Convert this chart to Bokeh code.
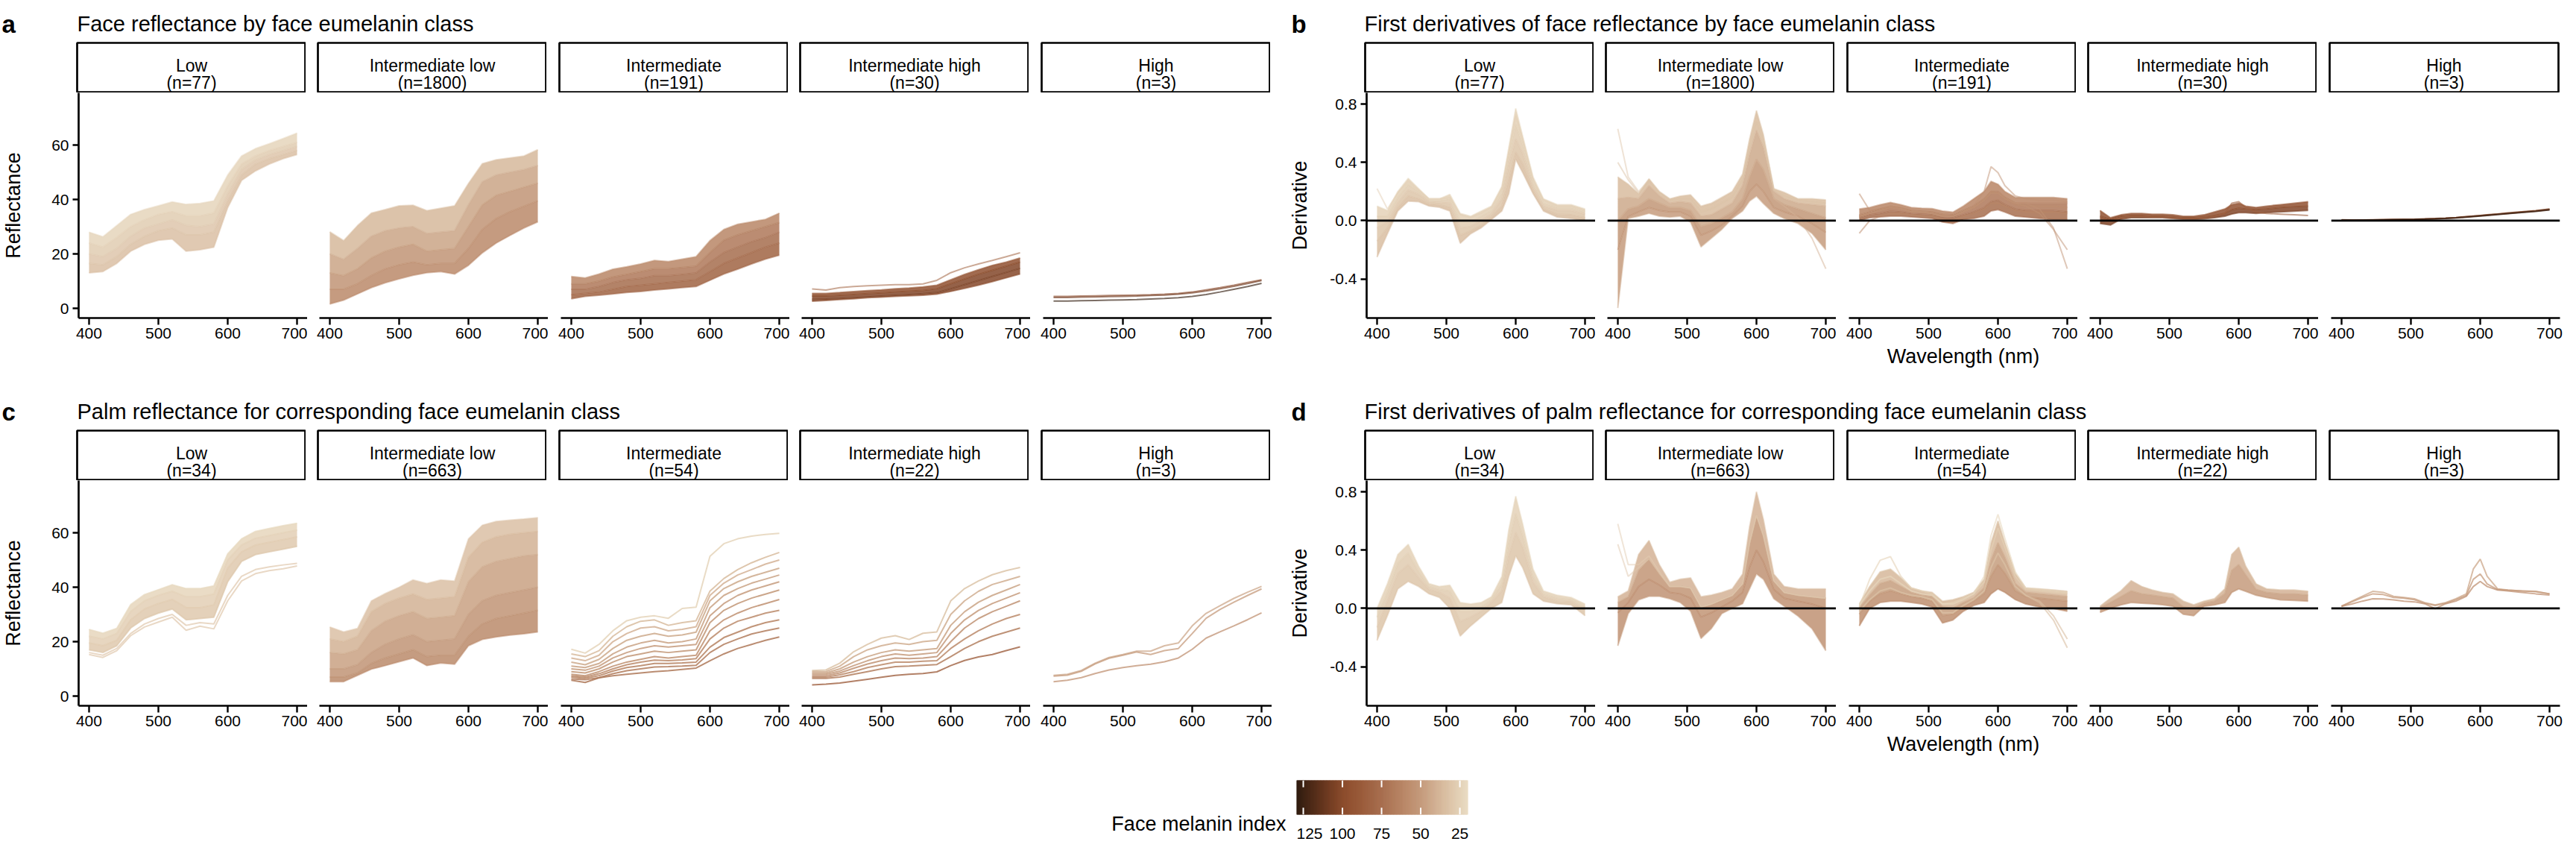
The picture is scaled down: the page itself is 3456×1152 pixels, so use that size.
import numpy as np
from bokeh.plotting import figure
from bokeh.models import Range1d, FixedTicker, PrintfTickFormatter, Span, ColumnDataSource, LinearColorMapper
from bokeh.layouts import row, column
from bokeh.embed import file_html
from bokeh.resources import INLINE
from bokeh.core.properties import value

FONT = "Liberation Sans"

# ---------------- data ----------------
CLASSES = ["Low", "Intermediate low", "Intermediate", "Intermediate high", "High"]
N_FACE = [77, 1800, 191, 30, 3]
N_PALM = [34, 663, 54, 22, 3]

WL_R = [400, 420, 440, 460, 480, 500, 520, 540, 560, 580, 600, 620, 640, 660, 680, 700]
WL_D = [400, 415, 430, 445, 460, 475, 490, 505, 520, 535, 550, 565, 580, 590, 600, 610, 625, 640, 660, 680, 700]

R_TICKS = [0, 20, 40, 60]
D_TICKS = [-0.4, 0.0, 0.4, 0.8]
WL_TICKS = [400, 500, 600, 700]
INDEX_TICKS = [125, 100, 75, 50, 25]
INDEX_RANGE = [19.8, 129.3]

# ---- a: face reflectance ----
FACE_R_LOW = [
    [28.0, 26.3, 30.4, 34.5, 36.3, 37.7, 39.1, 38.2, 38.6, 39.5, 49.0, 56.0, 58.7, 60.5, 62.4, 64.4],
    [24.0, 22.5, 26.0, 30.0, 32.5, 34.5, 35.5, 34.0, 34.0, 35.0, 45.0, 53.0, 56.0, 58.0, 59.5, 61.0],
    [20.0, 19.0, 22.0, 26.5, 29.5, 31.0, 32.5, 30.5, 30.0, 31.0, 42.0, 51.0, 54.5, 56.5, 58.0, 59.5],
    [16.5, 16.0, 19.0, 23.5, 26.5, 28.5, 29.5, 27.0, 27.0, 28.0, 39.5, 49.0, 53.0, 55.0, 56.5, 58.0],
    [13.0, 13.5, 16.5, 21.0, 23.5, 25.0, 25.5, 21.0, 21.5, 22.5, 37.0, 47.0, 50.5, 53.0, 55.0, 56.5],
]
FACE_R_LOW_IDX = [22, 26, 29, 32, 35]

FACE_R_INTLOW = [
    [28.1, 24.9, 30.4, 35.0, 36.3, 37.7, 37.9, 35.9, 36.8, 37.7, 45.9, 53.2, 54.6, 55.3, 56.0, 58.3],
    [20.0, 18.0, 22.0, 26.5, 28.5, 29.5, 30.0, 27.5, 28.0, 28.5, 38.0, 46.5, 49.0, 50.0, 51.0, 52.5],
    [13.0, 12.0, 14.5, 18.5, 21.0, 22.5, 23.5, 21.0, 21.5, 22.0, 30.0, 38.0, 41.5, 43.0, 44.5, 46.0],
    [7.0, 7.0, 9.0, 12.0, 14.5, 16.0, 17.0, 16.0, 16.5, 16.5, 22.0, 29.0, 33.0, 35.5, 37.5, 39.5],
    [1.6, 3.0, 5.3, 7.6, 9.4, 10.8, 12.1, 13.1, 13.5, 12.6, 15.8, 20.4, 24.0, 26.8, 29.5, 31.8],
]
FACE_R_INTLOW_IDX = [33, 42, 50, 58, 62]

FACE_R_INT = [
    [11.7, 11.2, 12.6, 14.4, 15.3, 16.3, 17.6, 17.2, 18.1, 19.0, 24.9, 29.0, 30.9, 31.8, 32.7, 35.0],
    [9.0, 9.0, 10.0, 11.5, 12.5, 13.5, 14.5, 14.5, 15.0, 15.5, 20.5, 25.0, 27.0, 28.5, 30.0, 31.5],
    [7.0, 7.0, 8.0, 9.5, 10.5, 11.0, 12.0, 12.0, 12.5, 13.0, 17.0, 20.5, 22.5, 24.5, 26.0, 28.0],
    [5.0, 5.5, 6.0, 7.0, 8.0, 8.5, 9.0, 9.5, 10.0, 10.5, 13.5, 16.5, 18.5, 20.5, 22.5, 24.0],
    [3.5, 4.4, 4.8, 5.3, 5.8, 6.2, 6.7, 7.1, 7.6, 8.0, 10.3, 12.6, 14.4, 16.3, 18.1, 19.5],
]
FACE_R_INT_IDX = [58, 66, 73, 80, 86]

FACE_R_INTHIGH = [
    [5.5, 5.5, 5.8, 6.2, 6.5, 6.8, 7.2, 7.5, 7.9, 8.5, 10.5, 12.5, 14.2, 15.8, 17.0, 18.5],
    [4.5, 4.5, 4.8, 5.1, 5.4, 5.7, 6.0, 6.3, 6.6, 7.2, 9.0, 10.8, 12.5, 14.0, 15.5, 17.0],
    [3.3, 3.4, 3.6, 3.9, 4.2, 4.5, 4.8, 5.1, 5.4, 5.8, 7.2, 8.7, 10.2, 11.7, 13.2, 14.7],
    [2.6, 2.9, 3.2, 3.5, 3.9, 4.1, 4.4, 4.6, 4.8, 5.2, 6.2, 7.3, 8.5, 9.8, 11.2, 12.6],
]
FACE_R_INTHIGH_IDX = [92, 100, 106, 98]
FACE_R_INTHIGH_EXTRA = [
    [7.1, 6.7, 7.6, 8.0, 8.3, 8.5, 8.7, 8.7, 9.0, 10.3, 13.1, 14.9, 16.3, 17.6, 19.0, 20.4],
]
FACE_R_INTHIGH_EXTRA_IDX = [75]

FACE_R_HIGH = [
    [4.4, 4.4, 4.5, 4.6, 4.7, 4.8, 4.9, 5.0, 5.2, 5.5, 6.0, 6.8, 7.6, 8.5, 9.5, 10.5],
    [4.0, 4.0, 4.1, 4.2, 4.3, 4.4, 4.5, 4.7, 4.9, 5.2, 5.7, 6.4, 7.2, 8.1, 9.1, 10.2],
    [2.7, 2.7, 2.8, 2.9, 3.0, 3.1, 3.2, 3.4, 3.6, 3.9, 4.4, 5.1, 6.0, 7.0, 8.0, 9.2],
]
FACE_R_HIGH_IDX = [100, 108, 128]

# ---- c: palm reflectance ----
PALM_R_LOW = [
    [24.5, 23.1, 24.9, 33.6, 37.3, 39.1, 40.9, 39.5, 39.5, 40.5, 52.3, 57.8, 60.5, 61.6, 62.6, 63.5],
    [22.0, 21.0, 23.0, 31.0, 35.0, 37.0, 38.5, 36.5, 36.5, 37.5, 50.0, 55.5, 58.0, 59.0, 60.0, 61.0],
    [19.5, 18.5, 20.5, 28.0, 32.0, 34.0, 35.5, 32.5, 32.5, 33.5, 47.0, 53.0, 55.5, 56.5, 57.5, 58.5],
    [17.0, 16.0, 18.5, 25.0, 28.5, 30.5, 32.0, 28.0, 28.5, 29.0, 42.0, 49.5, 52.0, 53.0, 54.0, 55.0],
]
PALM_R_LOW_IDX = [22, 25, 28, 31]
PALM_R_LOW_EXTRA = [
    [16.0, 15.0, 17.5, 23.0, 26.5, 28.5, 30.0, 26.0, 27.0, 26.5, 37.0, 44.0, 46.5, 47.5, 48.2, 48.8],
    [15.3, 14.2, 16.7, 22.2, 25.4, 27.2, 29.0, 24.2, 25.7, 24.7, 35.0, 42.3, 45.0, 46.1, 46.8, 47.8],
]
PALM_R_LOW_EXTRA_IDX = [30, 30]

PALM_R_INTLOW = [
    [25.4, 23.6, 24.9, 35.0, 37.7, 40.0, 42.7, 41.4, 42.7, 42.3, 57.8, 62.8, 64.2, 64.7, 65.1, 65.6],
    [21.0, 20.0, 22.0, 31.0, 34.0, 36.0, 37.5, 35.5, 36.0, 36.5, 51.0, 56.5, 58.5, 59.5, 60.0, 60.5],
    [16.0, 15.5, 17.0, 24.0, 27.5, 29.5, 31.0, 28.5, 29.0, 29.5, 42.0, 47.5, 49.5, 50.5, 51.5, 52.0],
    [10.0, 10.0, 11.5, 16.0, 19.0, 21.0, 22.5, 20.0, 20.5, 21.0, 30.0, 35.0, 37.0, 38.0, 39.0, 40.0],
    [7.0, 7.0, 8.5, 12.0, 14.0, 15.5, 17.0, 14.5, 15.0, 15.0, 22.0, 26.5, 28.5, 29.5, 30.5, 31.5],
    [5.3, 5.3, 7.6, 9.9, 11.2, 12.6, 14.0, 11.2, 12.1, 11.7, 18.5, 20.8, 21.7, 22.4, 22.9, 23.6],
]
PALM_R_INTLOW_IDX = [30, 37, 44, 51, 57, 62]

PALM_R_INT = [
    [17.2, 15.8, 19.0, 24.0, 27.7, 29.0, 29.5, 28.6, 32.2, 32.7, 51.4, 56.0, 57.8, 58.8, 59.4, 59.8],
    [15.5, 14.5, 16.7, 22.0, 25.5, 27.5, 28.0, 26.0, 27.0, 27.7, 38.6, 43.2, 46.5, 49.0, 51.0, 52.8],
    [14.0, 13.0, 15.0, 20.0, 23.0, 25.0, 25.5, 24.0, 24.5, 25.5, 37.0, 41.5, 44.5, 46.5, 48.5, 50.0],
    [12.5, 11.5, 13.5, 17.5, 20.5, 22.0, 23.0, 22.0, 22.5, 23.5, 35.0, 39.5, 42.0, 44.0, 45.5, 47.0],
    [11.0, 10.5, 12.0, 15.5, 18.0, 19.5, 20.5, 19.5, 20.0, 21.0, 32.5, 37.0, 39.5, 41.5, 43.0, 44.5],
    [10.0, 9.5, 11.0, 14.0, 16.0, 17.5, 18.5, 18.0, 18.5, 19.0, 29.5, 34.0, 37.0, 39.0, 40.5, 42.0],
    [9.0, 8.5, 10.0, 12.5, 14.5, 15.5, 16.5, 16.0, 16.5, 17.0, 27.0, 31.5, 34.0, 36.0, 37.5, 39.0],
    [8.0, 7.5, 9.0, 11.0, 12.5, 13.5, 14.5, 14.0, 14.5, 15.0, 24.0, 28.0, 30.5, 32.5, 34.0, 35.5],
    [7.5, 7.0, 8.2, 10.0, 11.5, 12.5, 13.2, 13.0, 13.3, 13.8, 21.0, 25.0, 27.5, 29.0, 30.5, 31.5],
    [7.0, 6.5, 7.5, 9.2, 10.5, 11.2, 12.0, 12.0, 12.2, 12.5, 18.0, 21.5, 23.5, 25.5, 27.0, 28.0],
    [6.3, 6.0, 6.8, 8.2, 9.3, 10.0, 10.7, 10.8, 11.0, 11.3, 16.0, 19.0, 21.0, 22.8, 24.0, 25.0],
    [5.8, 5.0, 6.7, 7.5, 8.0, 8.5, 9.0, 9.3, 9.8, 10.3, 13.0, 15.5, 17.5, 19.0, 20.5, 21.7],
]
PALM_R_INT_IDX = [24, 36, 40, 44, 47, 50, 53, 56, 60, 64, 67, 70]

PALM_R_INTHIGH = [
    [9.4, 9.6, 12.1, 16.3, 19.0, 21.3, 22.2, 20.8, 23.1, 23.6, 35.0, 39.5, 42.3, 44.6, 46.1, 47.3],
    [9.0, 9.0, 11.0, 14.5, 17.0, 18.5, 19.5, 19.0, 20.0, 20.5, 30.0, 35.0, 38.5, 41.0, 42.5, 44.0],
    [8.5, 8.5, 10.0, 12.5, 14.5, 16.0, 17.0, 16.5, 17.0, 17.5, 26.0, 31.0, 34.5, 37.0, 39.0, 41.0],
    [8.0, 8.0, 9.2, 11.2, 13.0, 14.5, 15.5, 15.0, 15.5, 16.0, 23.0, 28.0, 31.5, 34.0, 36.0, 38.0],
    [7.5, 7.5, 8.5, 10.2, 11.8, 13.0, 14.0, 13.8, 14.0, 14.5, 20.0, 25.0, 28.5, 31.0, 33.0, 35.0],
    [7.0, 7.0, 7.8, 9.0, 10.5, 11.5, 12.5, 12.5, 12.8, 13.0, 17.5, 21.0, 24.0, 26.5, 28.5, 30.0],
    [6.5, 6.5, 7.0, 8.0, 9.0, 10.0, 10.8, 11.0, 11.3, 11.6, 14.5, 17.5, 20.0, 22.0, 23.5, 25.0],
    [4.1, 4.4, 4.8, 5.5, 6.2, 6.9, 7.6, 8.0, 8.3, 8.9, 11.2, 13.1, 14.4, 15.3, 16.7, 18.1],
]
PALM_R_INTHIGH_IDX = [32, 42, 46, 50, 55, 60, 66, 78]

PALM_R_HIGH = [
    [7.6, 8.0, 9.4, 12.1, 14.2, 15.3, 16.5, 16.5, 18.5, 19.5, 25.8, 30.4, 33.2, 35.9, 38.2, 40.3],
    [7.3, 7.7, 9.1, 11.8, 13.9, 15.0, 16.2, 15.3, 16.7, 17.5, 23.0, 28.6, 31.8, 34.5, 37.0, 39.4],
    [5.3, 5.8, 6.8, 8.3, 9.6, 10.5, 11.2, 11.7, 12.6, 14.0, 17.2, 21.3, 23.6, 25.8, 28.1, 30.6],
]
PALM_R_HIGH_IDX = [45, 50, 55]

# ---- b: face derivatives ----
FACE_D_LOW = [
    [0.10, 0.07, 0.20, 0.29, 0.22, 0.15, 0.15, 0.18, 0.05, 0.03, 0.065, 0.10, 0.235, 0.50, 0.77, 0.58, 0.30, 0.15, 0.11, 0.11, 0.08],
    [0.03, 0.03, 0.16, 0.25, 0.20, 0.14, 0.14, 0.15, 0.00, -0.01, 0.03, 0.07, 0.19, 0.44, 0.66, 0.52, 0.26, 0.12, 0.09, 0.09, 0.06],
    [-0.05, -0.01, 0.12, 0.21, 0.18, 0.13, 0.125, 0.12, -0.05, -0.04, 0.00, 0.045, 0.15, 0.38, 0.56, 0.46, 0.23, 0.10, 0.07, 0.07, 0.045],
    [-0.14, -0.05, 0.09, 0.17, 0.15, 0.115, 0.11, 0.09, -0.10, -0.07, -0.03, 0.025, 0.10, 0.28, 0.47, 0.39, 0.20, 0.08, 0.045, 0.04, 0.02],
    [-0.25, -0.09, 0.066, 0.134, 0.13, 0.10, 0.092, 0.066, -0.155, -0.09, -0.05, 0.007, 0.066, 0.185, 0.42, 0.33, 0.185, 0.066, 0.024, 0.015, 0.0],
]
FACE_D_LOW_IDX = [24, 27, 30, 33, 36]
FACE_D_LOW_EXTRA = [
    [0.22, 0.08, 0.19, 0.27, 0.21, 0.15, 0.15, 0.16, 0.04, 0.02, 0.05, 0.09, 0.22, 0.47, 0.72, 0.56, 0.28, 0.14, 0.10, 0.10, 0.07],
]
FACE_D_LOW_EXTRA_IDX = [26]

FACE_D_INTLOW = [
    [0.30, 0.25, 0.185, 0.287, 0.20, 0.15, 0.168, 0.177, 0.10, 0.12, 0.16, 0.20, 0.32, 0.56, 0.755, 0.59, 0.22, 0.194, 0.15, 0.15, 0.143],
    [0.15, 0.16, 0.15, 0.24, 0.17, 0.12, 0.13, 0.12, 0.03, 0.04, 0.08, 0.12, 0.24, 0.45, 0.62, 0.50, 0.20, 0.15, 0.12, 0.11, 0.10],
    [0.00, 0.08, 0.10, 0.15, 0.12, 0.09, 0.09, 0.07, -0.04, -0.02, 0.02, 0.06, 0.15, 0.30, 0.42, 0.35, 0.15, 0.11, 0.08, 0.05, 0.02],
    [-0.20, 0.03, 0.06, 0.09, 0.07, 0.06, 0.06, 0.03, -0.10, -0.07, -0.03, 0.03, 0.10, 0.20, 0.25, 0.20, 0.09, 0.06, 0.03, -0.02, -0.08],
    [-0.60, 0.015, 0.03, 0.05, 0.03, 0.024, 0.03, -0.01, -0.18, -0.12, -0.06, 0.015, 0.066, 0.134, 0.168, 0.117, 0.05, 0.015, -0.02, -0.087, -0.20],
]
FACE_D_INTLOW_IDX = [32, 40, 48, 58, 42]
FACE_D_INTLOW_EXTRA = [
    [0.63, 0.30, 0.20, 0.28, 0.19, 0.14, 0.16, 0.16, 0.08, 0.10, 0.14, 0.18, 0.30, 0.52, 0.70, 0.55, 0.21, 0.18, 0.14, 0.14, 0.13],
    [0.40, 0.28, 0.19, 0.27, 0.19, 0.14, 0.15, 0.15, 0.06, 0.08, 0.12, 0.16, 0.28, 0.50, 0.68, 0.54, 0.21, 0.17, 0.14, 0.13, 0.12],
    [0.00, 0.08, 0.10, 0.15, 0.12, 0.09, 0.09, 0.07, -0.04, -0.02, 0.02, 0.06, 0.15, 0.30, 0.42, 0.35, 0.15, 0.10, 0.02, -0.12, -0.33],
]
FACE_D_INTLOW_EXTRA_IDX = [30, 32, 40]

FACE_D_INT = [
    [0.08, 0.09, 0.11, 0.125, 0.11, 0.09, 0.085, 0.083, 0.066, 0.058, 0.10, 0.15, 0.20, 0.27, 0.25, 0.20, 0.16, 0.16, 0.16, 0.16, 0.15],
    [0.04, 0.06, 0.08, 0.095, 0.085, 0.07, 0.065, 0.06, 0.045, 0.04, 0.07, 0.10, 0.15, 0.20, 0.20, 0.16, 0.12, 0.12, 0.12, 0.12, 0.12],
    [0.02, 0.04, 0.05, 0.065, 0.06, 0.05, 0.045, 0.04, 0.025, 0.02, 0.04, 0.06, 0.09, 0.13, 0.14, 0.11, 0.08, 0.07, 0.07, 0.07, 0.06],
    [0.00, 0.02, 0.025, 0.03, 0.03, 0.025, 0.02, 0.015, -0.01, -0.02, 0.007, 0.015, 0.03, 0.066, 0.075, 0.058, 0.03, 0.024, 0.015, 0.007, 0.007],
]
FACE_D_INT_IDX = [60, 66, 73, 78]
FACE_D_INT_EXTRA = [
    [0.185, 0.07, 0.08, 0.10, 0.09, 0.07, 0.06, 0.06, 0.04, 0.03, 0.06, 0.09, 0.14, 0.20, 0.19, 0.15, 0.11, 0.10, 0.10, 0.10, 0.09],
    [-0.087, 0.00, 0.03, 0.05, 0.05, 0.04, 0.03, 0.03, 0.01, 0.00, 0.03, 0.05, 0.08, 0.12, 0.12, 0.10, 0.07, 0.06, 0.06, 0.06, 0.05],
    [0.03, 0.05, 0.07, 0.09, 0.08, 0.06, 0.06, 0.05, 0.03, 0.03, 0.06, 0.10, 0.20, 0.37, 0.33, 0.24, 0.17, 0.15, 0.14, 0.14, 0.13],
    [0.03, 0.05, 0.07, 0.09, 0.08, 0.06, 0.06, 0.05, 0.03, 0.03, 0.06, 0.09, 0.14, 0.19, 0.19, 0.15, 0.12, 0.12, 0.08, -0.05, -0.33],
    [0.03, 0.05, 0.07, 0.09, 0.08, 0.06, 0.06, 0.05, 0.03, 0.03, 0.06, 0.09, 0.14, 0.19, 0.19, 0.15, 0.12, 0.10, 0.05, -0.06, -0.20],
]
FACE_D_INT_EXTRA_IDX = [58, 62, 55, 55, 55]

FACE_D_INTHIGH = [
    [0.07, 0.02, 0.04, 0.05, 0.05, 0.045, 0.045, 0.04, 0.03, 0.03, 0.04, 0.06, 0.08, 0.11, 0.12, 0.10, 0.09, 0.10, 0.11, 0.12, 0.13],
    [0.03, 0.01, 0.03, 0.035, 0.035, 0.03, 0.03, 0.025, 0.02, 0.02, 0.025, 0.035, 0.05, 0.075, 0.085, 0.08, 0.075, 0.08, 0.09, 0.095, 0.10],
    [-0.02, -0.03, 0.01, 0.02, 0.02, 0.02, 0.02, 0.015, 0.01, 0.008, 0.012, 0.02, 0.03, 0.045, 0.055, 0.055, 0.05, 0.055, 0.06, 0.065, 0.07],
]
FACE_D_INTHIGH_IDX = [92, 100, 106]
FACE_D_INTHIGH_EXTRA = [
    [0.02, 0.0, 0.02, 0.03, 0.03, 0.025, 0.025, 0.02, 0.015, 0.015, 0.02, 0.03, 0.05, 0.12, 0.13, 0.09, 0.06, 0.05, 0.045, 0.04, 0.035],
]
FACE_D_INTHIGH_EXTRA_IDX = [85]

FACE_D_HIGH = [
    [0.006, 0.005, 0.005, 0.006, 0.007, 0.008, 0.009, 0.010, 0.012, 0.015, 0.018, 0.022, 0.028, 0.032, 0.036, 0.040, 0.046, 0.053, 0.061, 0.069, 0.080],
    [0.004, 0.004, 0.004, 0.005, 0.006, 0.007, 0.008, 0.009, 0.011, 0.013, 0.016, 0.020, 0.026, 0.030, 0.034, 0.038, 0.044, 0.050, 0.058, 0.066, 0.076],
    [0.002, 0.002, 0.003, 0.004, 0.005, 0.006, 0.007, 0.008, 0.010, 0.012, 0.015, 0.019, 0.024, 0.028, 0.032, 0.036, 0.042, 0.048, 0.056, 0.064, 0.074],
]
FACE_D_HIGH_IDX = [102, 110, 125]

# ---- d: palm derivatives ----
PALM_D_LOW = [
    [0.00, 0.17, 0.37, 0.44, 0.29, 0.17, 0.15, 0.16, 0.04, 0.03, 0.04, 0.08, 0.22, 0.54, 0.77, 0.58, 0.27, 0.12, 0.09, 0.075, 0.03],
    [-0.06, 0.11, 0.31, 0.38, 0.25, 0.15, 0.13, 0.12, -0.02, -0.02, 0.01, 0.06, 0.17, 0.45, 0.65, 0.50, 0.22, 0.10, 0.07, 0.06, 0.01],
    [-0.13, 0.05, 0.24, 0.30, 0.21, 0.13, 0.11, 0.07, -0.09, -0.06, -0.02, 0.04, 0.12, 0.36, 0.52, 0.42, 0.18, 0.08, 0.05, 0.045, -0.01],
    [-0.22, -0.05, 0.134, 0.185, 0.15, 0.10, 0.075, 0.00, -0.19, -0.12, -0.06, 0.00, 0.04, 0.22, 0.36, 0.28, 0.10, 0.05, 0.032, 0.024, -0.05],
]
PALM_D_LOW_IDX = [24, 27, 30, 33]

PALM_D_INTLOW = [
    [0.08, 0.12, 0.37, 0.466, 0.30, 0.18, 0.20, 0.21, 0.08, 0.092, 0.11, 0.134, 0.236, 0.56, 0.80, 0.61, 0.236, 0.15, 0.134, 0.134, 0.134],
    [0.04, 0.08, 0.26, 0.34, 0.24, 0.15, 0.15, 0.14, 0.01, 0.03, 0.06, 0.09, 0.17, 0.45, 0.64, 0.50, 0.19, 0.11, 0.09, 0.08, 0.07],
    [-0.03, 0.04, 0.15, 0.20, 0.16, 0.11, 0.10, 0.07, -0.06, -0.03, 0.01, 0.05, 0.11, 0.28, 0.40, 0.32, 0.13, 0.07, 0.05, 0.03, 0.00],
    [-0.257, -0.036, 0.058, 0.083, 0.083, 0.066, 0.04, -0.02, -0.206, -0.138, -0.036, 0.00, 0.032, 0.134, 0.236, 0.20, 0.066, 0.015, -0.053, -0.138, -0.29],
]
PALM_D_INTLOW_IDX = [35, 45, 62, 48]
PALM_D_INTLOW_EXTRA = [
    [0.58, 0.30, 0.30, 0.36, 0.25, 0.15, 0.15, 0.14, 0.01, 0.03, 0.06, 0.09, 0.17, 0.45, 0.64, 0.50, 0.19, 0.11, 0.09, 0.08, 0.07],
    [0.44, 0.22, 0.28, 0.34, 0.24, 0.15, 0.15, 0.14, 0.01, 0.03, 0.06, 0.09, 0.17, 0.45, 0.64, 0.50, 0.19, 0.11, 0.09, 0.08, 0.07],
]
PALM_D_INTLOW_EXTRA_IDX = [28, 30]

PALM_D_INT = [
    [0.03, 0.15, 0.25, 0.27, 0.21, 0.14, 0.12, 0.11, 0.05, 0.06, 0.08, 0.11, 0.20, 0.45, 0.60, 0.45, 0.24, 0.14, 0.134, 0.126, 0.117],
    [0.00, 0.09, 0.17, 0.19, 0.15, 0.11, 0.09, 0.08, 0.01, 0.00, 0.04, 0.07, 0.14, 0.33, 0.45, 0.35, 0.17, 0.11, 0.10, 0.09, 0.08],
    [-0.04, 0.05, 0.10, 0.12, 0.10, 0.08, 0.07, 0.05, -0.05, -0.04, 0.01, 0.05, 0.10, 0.22, 0.30, 0.24, 0.12, 0.08, 0.07, 0.06, 0.05],
    [-0.12, 0.00, 0.04, 0.05, 0.05, 0.04, 0.03, 0.01, -0.10, -0.08, -0.02, 0.02, 0.04, 0.10, 0.134, 0.11, 0.06, 0.03, 0.01, 0.00, -0.02],
]
PALM_D_INT_IDX = [32, 44, 54, 60]
PALM_D_INT_EXTRA = [
    [0.01, 0.20, 0.33, 0.355, 0.22, 0.14, 0.12, 0.10, 0.03, 0.04, 0.07, 0.10, 0.18, 0.40, 0.55, 0.42, 0.22, 0.13, 0.12, 0.11, 0.10],
    [0.02, 0.12, 0.20, 0.22, 0.17, 0.12, 0.10, 0.09, 0.03, 0.03, 0.06, 0.10, 0.22, 0.50, 0.645, 0.48, 0.25, 0.14, 0.13, 0.12, 0.11],
    [-0.02, 0.06, 0.12, 0.14, 0.11, 0.09, 0.08, 0.06, -0.03, -0.03, 0.02, 0.06, 0.12, 0.28, 0.38, 0.30, 0.15, 0.09, 0.04, -0.08, -0.27],
    [-0.02, 0.06, 0.12, 0.14, 0.11, 0.09, 0.08, 0.06, -0.03, -0.03, 0.02, 0.06, 0.12, 0.28, 0.38, 0.30, 0.15, 0.09, 0.05, -0.05, -0.21],
]
PALM_D_INT_EXTRA_IDX = [25, 22, 35, 35]

PALM_D_INTHIGH = [
    [0.015, 0.07, 0.12, 0.19, 0.15, 0.126, 0.11, 0.10, 0.05, 0.024, 0.05, 0.066, 0.134, 0.37, 0.42, 0.29, 0.168, 0.134, 0.126, 0.126, 0.117],
    [0.005, 0.04, 0.08, 0.12, 0.10, 0.09, 0.08, 0.07, 0.01, 0.00, 0.035, 0.05, 0.10, 0.26, 0.30, 0.23, 0.13, 0.11, 0.10, 0.10, 0.09],
    [-0.027, 0.00, 0.024, 0.04, 0.035, 0.032, 0.025, 0.015, -0.04, -0.05, 0.015, 0.024, 0.04, 0.11, 0.134, 0.117, 0.09, 0.075, 0.058, 0.055, 0.05],
]
PALM_D_INTHIGH_IDX = [35, 45, 55]

PALM_D_HIGH = [
    [0.015, 0.05, 0.083, 0.117, 0.11, 0.083, 0.075, 0.066, 0.04, 0.024, 0.04, 0.066, 0.10, 0.27, 0.338, 0.22, 0.134, 0.126, 0.12, 0.117, 0.10],
    [0.015, 0.045, 0.075, 0.10, 0.095, 0.075, 0.07, 0.06, 0.035, 0.02, 0.035, 0.06, 0.09, 0.20, 0.236, 0.168, 0.13, 0.125, 0.12, 0.115, 0.10],
    [0.015, 0.03, 0.05, 0.066, 0.065, 0.058, 0.05, 0.045, 0.032, -0.002, 0.032, 0.05, 0.083, 0.15, 0.185, 0.15, 0.126, 0.12, 0.11, 0.10, 0.092],
]
PALM_D_HIGH_IDX = [45, 50, 55]

# ---------------- styling ----------------
ANCHOR_VALS = [19.8, 25, 37.5, 50, 62.5, 75, 87.5, 100, 115, 129.3]
ANCHOR_RGB = [(233, 221, 196), (228, 210, 184), (214, 184, 155), (197, 155, 124), (184, 133, 101),
              (168, 111, 80), (155, 93, 60), (140, 76, 44), (95, 50, 28), (48, 28, 16)]


def make_palette(n=256):
    vals = np.linspace(INDEX_RANGE[0], INDEX_RANGE[1], n)
    arr = np.array(ANCHOR_RGB, dtype=float)
    out = []
    for v in vals:
        r = np.interp(v, ANCHOR_VALS, arr[:, 0])
        g = np.interp(v, ANCHOR_VALS, arr[:, 1])
        b = np.interp(v, ANCHOR_VALS, arr[:, 2])
        out.append("#%02x%02x%02x" % (int(round(r)), int(round(g)), int(round(b))))
    return out


PALETTE = make_palette()
MAPPER = LinearColorMapper(palette=PALETTE, low=INDEX_RANGE[0], high=INDEX_RANGE[1])

FW = 307
FH = 302
BOTTOM = 94
GAPS = [16, 17, 16, 17]
LEFT = [103, 127]
RIGHT_END = 8
AXW = 2.7


def borders(panel, j):
    left = LEFT[panel] if j == 0 else GAPS[j - 1]
    right = RIGHT_END if (panel == 1 and j == 4) else 0
    return left, right


def add_curves(p, wl, curves, idxs, band, extras, extra_idx, line_alpha):
    if band and len(curves) > 1:
        xs, ys, ids = [], [], []
        for k in range(len(curves) - 1):
            xs.append(list(wl) + list(wl)[::-1])
            ys.append(list(curves[k]) + list(curves[k + 1])[::-1])
            ids.append(0.5 * (idxs[k] + idxs[k + 1]))
        src = ColumnDataSource(dict(xs=xs, ys=ys, idx=ids))
        p.patches("xs", "ys", source=src, fill_color={"field": "idx", "transform": MAPPER},
                  fill_alpha=0.85, line_color=None)
    all_c = list(curves) + list(extras or [])
    all_i = list(idxs) + list(extra_idx or [])
    src2 = ColumnDataSource(dict(xs=[list(wl)] * len(all_c), ys=all_c, idx=all_i))
    p.multi_line("xs", "ys", source=src2, line_color={"field": "idx", "transform": MAPPER},
                 line_alpha=line_alpha, line_width=2)


def make_facet(kind, panel, j, curves, idxs, band=True, extras=None, extra_idx=None,
               line_alpha=0.55, xlabel=None):
    left, right = borders(panel, j)
    if kind == "R":
        yr = Range1d(-3.56, 79.2)
        wl = WL_R
    else:
        yr = Range1d(-0.668, 0.877)
        wl = WL_D
    kw = {}
    if j > 0:
        kw["y_axis_location"] = None
    p = figure(frame_width=FW, frame_height=FH, min_border_left=left, min_border_right=right,
               min_border_top=0, min_border_bottom=BOTTOM, x_range=Range1d(385, 715), y_range=yr,
               output_backend="svg", toolbar_location=None, **kw)
    p.outline_line_color = None
    p.background_fill_color = "white"
    p.xgrid.visible = False
    p.ygrid.visible = False
    add_curves(p, wl, curves, idxs, band, extras, extra_idx, line_alpha)
    if kind == "D":
        p.add_layout(Span(location=0, dimension="width", line_color="black", line_width=AXW))
    axes = [p.xaxis[0]] + ([p.yaxis[0]] if j == 0 else [])
    for ax in axes:
        ax.axis_line_width = AXW
        ax.axis_line_color = "black"
        ax.major_tick_line_width = 2.4
        ax.major_tick_line_color = "black"
        ax.major_tick_in = 0
        ax.minor_tick_line_color = None
        ax.major_label_text_font = FONT
        ax.major_label_text_font_size = "21px"
        ax.major_label_text_color = "black"
        ax.axis_label_text_font = FONT
        ax.axis_label_text_font_size = "27px"
        ax.axis_label_text_font_style = "normal"
        ax.axis_label_text_color = "black"
    p.xaxis[0].ticker = FixedTicker(ticks=WL_TICKS)
    p.xaxis[0].major_tick_out = 9
    p.xaxis[0].major_label_standoff = 4
    if xlabel:
        p.xaxis[0].axis_label = xlabel
        p.xaxis[0].axis_label_standoff = 6
    if j == 0:
        ya = p.yaxis[0]
        ya.major_tick_out = 8
        ya.major_label_standoff = 5
        if kind == "R":
            ya.ticker = FixedTicker(ticks=R_TICKS)
            ya.axis_label = "Reflectance"
            ya.axis_label_standoff = 33
        else:
            ya.ticker = FixedTicker(ticks=D_TICKS)
            ya.formatter = PrintfTickFormatter(format="%.1f")
            ya.axis_label = "Derivative"
            ya.axis_label_standoff = 22
    return p


def make_strip(panel, j, label, n):
    left, right = borders(panel, j)
    s = figure(frame_width=FW, frame_height=66, min_border_left=left, min_border_right=right,
               min_border_top=2, min_border_bottom=1, x_range=Range1d(0, 1), y_range=Range1d(0, 66),
               x_axis_type=None, y_axis_type=None, output_backend="svg", toolbar_location=None)
    s.outline_line_color = "black"
    s.outline_line_width = 2.7
    s.text(x=[0.5, 0.5], y=[36, 13], text=[label, "(n=%d)" % n], text_align="center",
           text_baseline="alphabetic", text_font=value(FONT), text_font_size="23px", text_color="black")
    return s


def make_header(items):
    h = figure(frame_width=3440, frame_height=55, min_border=0, x_range=Range1d(0, 3440),
               y_range=Range1d(0, 55), x_axis_type=None, y_axis_type=None,
               output_backend="svg", toolbar_location=None)
    h.outline_line_color = None
    for (x, t, bold, size) in items:
        h.text(x=[x], y=[23.5], text=[t], text_align="left", text_baseline="alphabetic",
               text_font=value(FONT), text_font_size=size, text_color="black",
               text_font_style="bold" if bold else "normal")
    return h


# ---------------- build ----------------
face_R = [
    (FACE_R_LOW, FACE_R_LOW_IDX, True, None, None, 0.5),
    (FACE_R_INTLOW, FACE_R_INTLOW_IDX, True, None, None, 0.5),
    (FACE_R_INT, FACE_R_INT_IDX, True, None, None, 0.5),
    (FACE_R_INTHIGH, FACE_R_INTHIGH_IDX, True, FACE_R_INTHIGH_EXTRA, FACE_R_INTHIGH_EXTRA_IDX, 0.6),
    (FACE_R_HIGH, FACE_R_HIGH_IDX, False, None, None, 0.65),
]
face_D = [
    (FACE_D_LOW, FACE_D_LOW_IDX, True, FACE_D_LOW_EXTRA, FACE_D_LOW_EXTRA_IDX, 0.5),
    (FACE_D_INTLOW, FACE_D_INTLOW_IDX, True, FACE_D_INTLOW_EXTRA, FACE_D_INTLOW_EXTRA_IDX, 0.5),
    (FACE_D_INT, FACE_D_INT_IDX, True, FACE_D_INT_EXTRA, FACE_D_INT_EXTRA_IDX, 0.5),
    (FACE_D_INTHIGH, FACE_D_INTHIGH_IDX, True, FACE_D_INTHIGH_EXTRA, FACE_D_INTHIGH_EXTRA_IDX, 0.6),
    (FACE_D_HIGH, FACE_D_HIGH_IDX, False, None, None, 0.8),
]
palm_R = [
    (PALM_R_LOW, PALM_R_LOW_IDX, True, PALM_R_LOW_EXTRA, PALM_R_LOW_EXTRA_IDX, 0.7),
    (PALM_R_INTLOW, PALM_R_INTLOW_IDX, True, None, None, 0.5),
    (PALM_R_INT, PALM_R_INT_IDX, False, None, None, 0.85),
    (PALM_R_INTHIGH, PALM_R_INTHIGH_IDX, False, None, None, 0.85),
    (PALM_R_HIGH, PALM_R_HIGH_IDX, False, None, None, 0.75),
]
palm_D = [
    (PALM_D_LOW, PALM_D_LOW_IDX, True, None, None, 0.5),
    (PALM_D_INTLOW, PALM_D_INTLOW_IDX, True, PALM_D_INTLOW_EXTRA, PALM_D_INTLOW_EXTRA_IDX, 0.5),
    (PALM_D_INT, PALM_D_INT_IDX, True, PALM_D_INT_EXTRA, PALM_D_INT_EXTRA_IDX, 0.6),
    (PALM_D_INTHIGH, PALM_D_INTHIGH_IDX, True, None, None, 0.6),
    (PALM_D_HIGH, PALM_D_HIGH_IDX, False, None, None, 0.75),
]


def facet_row(left_specs, right_specs):
    figs = []
    for j, sp in enumerate(left_specs):
        figs.append(make_facet("R", 0, j, sp[0], sp[1], sp[2], sp[3], sp[4], sp[5]))
    for j, sp in enumerate(right_specs):
        figs.append(make_facet("D", 1, j, sp[0], sp[1], sp[2], sp[3], sp[4], sp[5],
                               xlabel="Wavelength (nm)" if j == 2 else None))
    return row(*figs)


def strip_row(ns):
    figs = []
    for panel in (0, 1):
        for j in range(5):
            figs.append(make_strip(panel, j, CLASSES[j], ns[j]))
    return row(*figs)


header1 = make_header([
    (2, "a", True, "33px"), (103, "Face reflectance by face eumelanin class", False, "29px"),
    (1732, "b", True, "33px"), (1830, "First derivatives of face reflectance by face eumelanin class", False, "29px"),
])
header2 = make_header([
    (2, "c", True, "33px"), (103, "Palm reflectance for corresponding face eumelanin class", False, "29px"),
    (1732, "d", True, "33px"), (1830, "First derivatives of palm reflectance for corresponding face eumelanin class", False, "29px"),
])

# legend
leg_text = figure(frame_width=1739, frame_height=96, min_border=0, x_range=Range1d(0, 1739),
                  y_range=Range1d(0, 96), x_axis_type=None, y_axis_type=None,
                  output_backend="svg", toolbar_location=None)
leg_text.outline_line_color = None
leg_text.text(x=[1725], y=[38], text=["Face melanin index"], text_align="right", text_baseline="alphabetic",
              text_font=value(FONT), text_font_size="27px", text_color="black")

cbar = figure(frame_width=230, frame_height=46, min_border_left=0, min_border_right=1471,
              min_border_top=6, min_border_bottom=44,
              x_range=Range1d(INDEX_RANGE[1], INDEX_RANGE[0]), y_range=Range1d(0, 1),
              y_axis_type=None, output_backend="svg", toolbar_location=None)
cbar.outline_line_color = None
cbar.xgrid.visible = False
edges = np.linspace(INDEX_RANGE[0], INDEX_RANGE[1], 116)
csrc = ColumnDataSource(dict(left=edges[:-1], right=edges[1:], mid=0.5 * (edges[:-1] + edges[1:])))
cbar.quad(left="left", right="right", bottom=0, top=1, source=csrc,
          fill_color={"field": "mid", "transform": MAPPER},
          line_color={"field": "mid", "transform": MAPPER}, line_width=1.2)
cbar.segment(x0=INDEX_TICKS, x1=INDEX_TICKS, y0=[0] * 5, y1=[0.2] * 5, line_color="white", line_width=2)
cbar.segment(x0=INDEX_TICKS, x1=INDEX_TICKS, y0=[0.8] * 5, y1=[1] * 5, line_color="white", line_width=2)
cax = cbar.xaxis[0]
cax.ticker = FixedTicker(ticks=INDEX_TICKS)
cax.axis_line_color = None
cax.major_tick_line_color = None
cax.minor_tick_line_color = None
cax.major_label_standoff = 12
cax.major_label_text_font = FONT
cax.major_label_text_font_size = "21px"
cax.major_label_text_color = "black"

layout = column(
    header1, strip_row(N_FACE), facet_row(face_R, face_D),
    header2, strip_row(N_PALM), facet_row(palm_R, palm_D),
    row(leg_text, cbar),
)

open("out.html", "w").write(file_html(layout, INLINE))
